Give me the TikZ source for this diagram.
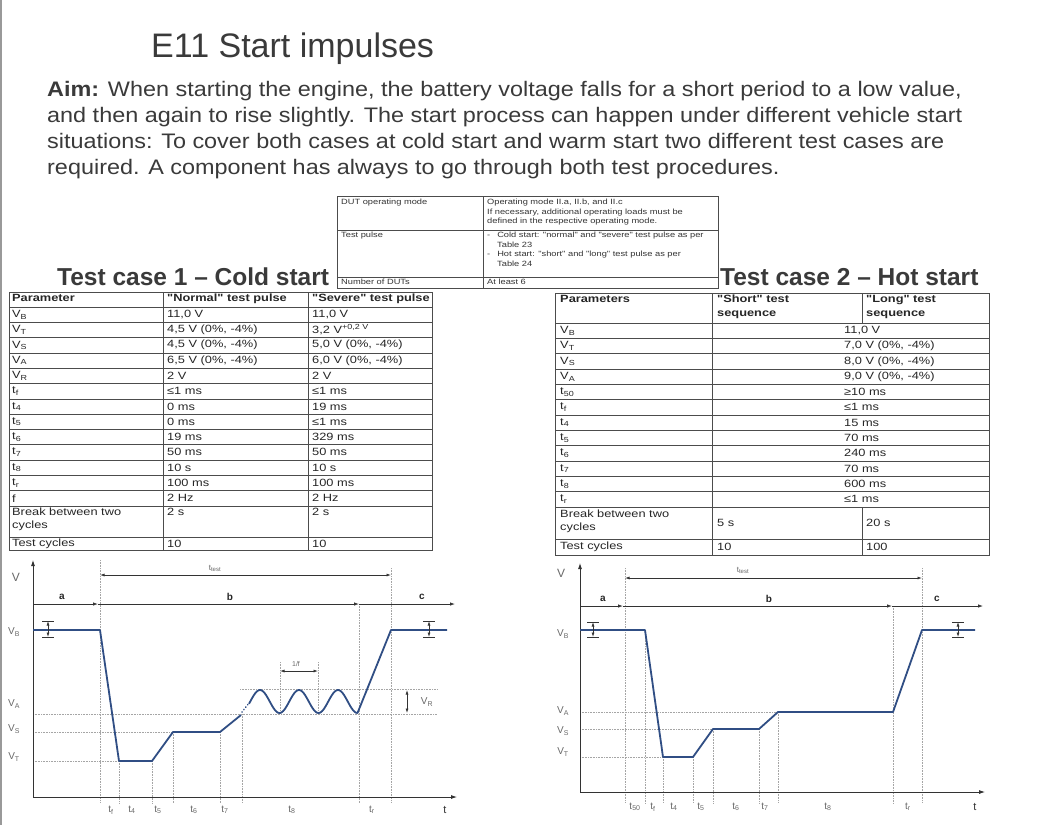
\documentclass[tikz,border=0pt]{standalone}
\usepackage{fontspec}
\setmainfont{Liberation Sans}
\newfontfamily\tabfont[FakeStretch=1.22]{Liberation Sans}
\newfontfamily\aimfont[FakeStretch=1.115]{Liberation Sans}
\usepackage{tikz}
\usetikzlibrary{arrows.meta}
\definecolor{slidegray}{RGB}{58,58,58}
\definecolor{pulseblue}{RGB}{48,78,132}
\definecolor{guidegray}{RGB}{165,165,165}
\definecolor{labelgray}{RGB}{105,105,105}
\newcommand{\lo}[1]{\textsubscript{#1}}
\tikzstyle{aimline} = [anchor=base west, inner sep=0pt, text=slidegray,
font=\aimfont\fontsize{21}{26}\selectfont]
\tikzstyle{casehead} = [anchor=base west, inner sep=0pt, text=slidegray,
font=\fontsize{24.5}{28}\selectfont\bfseries]
\tikzstyle{tabline} = [draw=black!70, line width=0.6pt]
\tikzstyle{tabcell} = [anchor=west, inner sep=0pt, text=black!85,
font=\tabfont\fontsize{10.5}{12.5}\selectfont]
\tikzstyle{tabhead} = [anchor=north west, inner sep=0pt, align=left, text=black!85,
font=\tabfont\fontsize{10.5}{14}\selectfont\bfseries]
\tikzstyle{tabwrap} = [anchor=north west, inner sep=0pt, align=left, text=black!85,
font=\tabfont\fontsize{10.5}{12.5}\selectfont]
\tikzstyle{dutcell} = [anchor=north west, inner sep=0pt, align=left, text=black!80,
font=\tabfont\fontsize{7.6}{9.6}\selectfont]
\tikzstyle{guideline} = [guidegray, densely dotted, line width=0.6pt]
\tikzstyle{pulse} = [pulseblue, line width=1.8pt, line join=round]
\tikzstyle{plotaxis} = [black!80, line width=0.8pt, -{Latex[length=6pt,width=4pt]}]
\tikzstyle{phasearrow} = [black!80, line width=0.8pt, -{Latex[length=5pt,width=3.5pt]}]
\tikzstyle{dimarrow} = [black!80, line width=0.7pt,
{Latex[length=4.5pt,width=3pt]}-{Latex[length=4.5pt,width=3pt]}]
\tikzstyle{levellabel} = [inner sep=0pt, text=labelgray, font=\fontsize{10}{12}\selectfont]
\tikzstyle{phaselabel} = [inner sep=0pt, text=black!85, font=\fontsize{10}{12}\selectfont\bfseries]

\begin{document}
\begin{tikzpicture}[x=1pt,y=-1pt]
\useasboundingbox (0,0) rectangle (1059,825);
\fill[white] (0,0) rectangle (1059,825);
\draw[black!40, line width=1.2pt] (1,0) -- (1,825);

% title and aim
\node[anchor=base west, inner sep=0pt, text=slidegray, font=\fontsize{34}{40}\selectfont]
  (title) at (151,57) {E11 Start impulses};
\node[aimline] (aim1) at (47,96) {\textbf{Aim:} When starting the engine, the battery voltage falls for a short period to a low value,};
\node[aimline] (aim2) at (47,122) {and then again to rise slightly. The start process can happen under different vehicle start};
\node[aimline] (aim3) at (47,148) {situations: To cover both cases at cold start and warm start two different test cases are};
\node[aimline] (aim4) at (47,174) {required. A component has always to go through both test procedures.};

% DUT table
\draw[tabline] (337,196) rectangle (718,288);
\draw[tabline] (337,230) -- (718,230) (337,277) -- (718,277) (483,196) -- (483,288);
\node[dutcell] (dut1) at (341,199) {DUT operating mode};
\node[dutcell] (dut2) at (487,199) {Operating mode II.a, II.b, and II.c\\
  If necessary, additional operating loads must be\\defined in the respective operating mode.};
\node[dutcell] (dut3) at (341,232) {Test pulse};
\node[dutcell] (dut4) at (487,232) {-\hspace{7pt}Cold start: "normal" and "severe" test pulse as per\\
  \hspace*{10pt}Table 23\\-\hspace{7pt}Hot start: "short" and "long" test pulse as per\\
  \hspace*{10pt}Table 24};
\node[dutcell] (dut5) at (341,278.5) {Number of DUTs};
\node[dutcell] (dut6) at (487,278.5) {At least 6};

\node[casehead] (case1) at (57,285) {Test case 1 – Cold start};
\node[casehead] (case2) at (720,285) {Test case 2 – Hot start};

% cold start table
\draw[tabline] (9,292) rectangle (432,550);
\foreach \i in {0,...,13}
  \draw[tabline] (9,{307+\i*15.3}) -- (432,{307+\i*15.3});
\draw[tabline] (9,537) -- (432,537) (163,292) -- (163,550) (308,292) -- (308,550);
\node[tabhead] (ch1) at (12,294) {Parameter};
\node[tabhead] (ch2) at (167,294) {"Normal" test pulse};
\node[tabhead] (ch3) at (312,294) {"Severe" test pulse};
\foreach \p/\n/\s [count=\i] in {
  {V\lo{B}}/{11,0 V}/{11,0 V},
  {V\lo{T}}/{4,5 V (0\%, -4\%)}/{3,2 V\textsuperscript{+0,2 V}},
  {V\lo{S}}/{4,5 V (0\%, -4\%)}/{5,0 V (0\%, -4\%)},
  {V\lo{A}}/{6,5 V (0\%, -4\%)}/{6,0 V (0\%, -4\%)},
  {V\lo{R}}/{2 V}/{2 V},
  {t\lo{f}}/{≤1 ms}/{≤1 ms},
  {t\lo{4}}/{0 ms}/{19 ms},
  {t\lo{5}}/{0 ms}/{≤1 ms},
  {t\lo{6}}/{19 ms}/{329 ms},
  {t\lo{7}}/{50 ms}/{50 ms},
  {t\lo{8}}/{10 s}/{10 s},
  {t\lo{r}}/{100 ms}/{100 ms},
  {f}/{2 Hz}/{2 Hz}} {
  \node[tabcell] (cp\i) at (12,{307+(\i-0.5)*15.3}) {\p};
  \node[tabcell] (cn\i) at (167,{307+(\i-0.5)*15.3}) {\n};
  \node[tabcell] (cs\i) at (312,{307+(\i-0.5)*15.3}) {\s};
}
\node[tabwrap] (cbr1) at (12,508) {Break between two\\cycles};
\node[tabwrap] (cbr2) at (167,508) {2 s};
\node[tabwrap] (cbr3) at (312,508) {2 s};
\node[tabcell] (ccy1) at (12,543.5) {Test cycles};
\node[tabcell] (ccy2) at (167,543.5) {10};
\node[tabcell] (ccy3) at (312,543.5) {10};

% hot start table
\draw[tabline] (555,293) rectangle (989,555);
\foreach \i in {0,...,12}
  \draw[tabline] (555,{323+\i*15.33}) -- (989,{323+\i*15.33});
\draw[tabline] (555,539) -- (989,539) (712,293) -- (712,555)
  (862,293) -- (862,323) (862,507) -- (862,555);
\node[tabhead] (hh1) at (560,295) {Parameters};
\node[tabhead] (hh2) at (717,295) {"Short" test\\sequence};
\node[tabhead] (hh3) at (866,295) {"Long" test\\sequence};
\foreach \p/\v [count=\i] in {
  {V\lo{B}}/{11,0 V},
  {V\lo{T}}/{7,0 V (0\%, -4\%)},
  {V\lo{S}}/{8,0 V (0\%, -4\%)},
  {V\lo{A}}/{9,0 V (0\%, -4\%)},
  {t\lo{50}}/{≥10 ms},
  {t\lo{f}}/{≤1 ms},
  {t\lo{4}}/{15 ms},
  {t\lo{5}}/{70 ms},
  {t\lo{6}}/{240 ms},
  {t\lo{7}}/{70 ms},
  {t\lo{8}}/{600 ms},
  {t\lo{r}}/{≤1 ms}} {
  \node[tabcell] (hp\i) at (560,{323+(\i-0.5)*15.33}) {\p};
  \node[tabcell] (hv\i) at (844,{323+(\i-0.5)*15.33}) {\v};
}
\node[tabwrap] (hbr1) at (560,510) {Break between two\\cycles};
\node[tabcell] (hbr2) at (717,523) {5 s};
\node[tabcell] (hbr3) at (866,523) {20 s};
\node[tabcell] (hcy1) at (560,547) {Test cycles};
\node[tabcell] (hcy2) at (717,547) {10};
\node[tabcell] (hcy3) at (866,547) {100};

% cold start pulse
\foreach \x/\a in {100/560, 119/761, 152/761, 173/732, 220/732, 242/714, 359/604, 391/568}
  \draw[guideline] (\x,\a) -- (\x,803);
\draw[guideline] (280,662) -- (280,714) (318,662) -- (318,714);
\draw[guideline] (33,714) -- (437,714) (240,689) -- (437,689)
  (33,732) -- (173,732) (33,761) -- (119,761);
\coordinate (lo) at (33,797);
\coordinate (ltop) at (33,560);
\coordinate (lend) at (457,797);
\draw[plotaxis] (lo) -- (ltop);
\draw[plotaxis] (lo) -- (lend);
\coordinate (la) at (33,604);
\coordinate (lb) at (98,604);
\coordinate (lc) at (359,604);
\coordinate (ld) at (455,604);
\draw[phasearrow] (la) -- (lb);
\draw[phasearrow] (lb) -- (lc);
\draw[phasearrow] (lc) -- (ld);
\node[phaselabel] (lpa) at (62,597) {a};
\node[phaselabel] (lpb) at (230,597) {b};
\node[phaselabel] (lpc) at (422,597) {c};
\coordinate (lts) at (100,575);
\coordinate (lte) at (391,575);
\draw[dimarrow] (lts) -- (lte);
\node[levellabel, font=\fontsize{8}{9}\selectfont] (ltt) at (215,568) {t\lo{test}};
\draw[pulse] (33,630) -- (100,630) -- (119,761) -- (152,761) -- (173,732)
  -- (220,732) -- (241,715);
\draw[pulseblue, line width=1.8pt, line cap=round, dash pattern=on 0.1pt off 3pt]
  (242,712) -- (249,703);
\draw[pulse] plot[domain=249:357.5, samples=90] (\x, {701.5-11.5*cos(9.2308*(\x-260))})
  -- (391,630) -- (447,630);
\foreach \x/\n in {48/lvb1, 429/lvb2} {
  \draw[black!80, line width=0.7pt] (\x-6,621) -- (\x+6,621) (\x-6,637) -- (\x+6,637);
  \coordinate (\n t) at (\x,621);
  \coordinate (\n b) at (\x,637);
  \draw[dimarrow] (\n t) -- (\n b);
}
\coordinate (lrt) at (407,690);
\coordinate (lrb) at (407,713);
\draw[dimarrow] (lrt) -- (lrb);
\node[levellabel] (lvr) at (427,702) {V\lo{R}};
\coordinate (lfs) at (280,671);
\coordinate (lfe) at (318,671);
\draw[dimarrow] (lfs) -- (lfe);
\node[levellabel, font=\fontsize{7}{8}\selectfont] (lf) at (296,664) {1/f};
\node[levellabel, font=\fontsize{12}{14}\selectfont] (lv) at (16,577) {V};
\node[levellabel] (lvb) at (14,632) {V\lo{B}};
\node[levellabel] (lva) at (14,704) {V\lo{A}};
\node[levellabel] (lvs) at (14,729) {V\lo{S}};
\node[levellabel] (lvt) at (14,757) {V\lo{T}};
\foreach \x/\t [count=\i] in {111/t\lo{f}, 132/t\lo{4}, 158/t\lo{5}, 194/t\lo{6},
  225/t\lo{7}, 292/t\lo{8}, 372/t\lo{r}}
  \node[levellabel] (lt\i) at (\x,810) {\t};
\node[levellabel, text=black!80, font=\fontsize{11}{12}\selectfont] (ltime) at (445,810) {t};

% hot start pulse
\foreach \x/\a in {625/568, 645/630, 663/757, 693/757, 713/729, 759/729, 778/712, 893/606, 922/568}
  \draw[guideline] (\x,\a) -- (\x,803);
\draw[guideline] (580,712) -- (778,712) (580,729) -- (713,729) (580,757) -- (663,757);
\coordinate (ro) at (580,792);
\coordinate (rtop) at (580,563);
\coordinate (rend) at (985,792);
\draw[plotaxis] (ro) -- (rtop);
\draw[plotaxis] (ro) -- (rend);
\coordinate (ra) at (580,606);
\coordinate (rb) at (623,606);
\coordinate (rc) at (892,606);
\coordinate (rd) at (983,606);
\draw[phasearrow] (ra) -- (rb);
\draw[phasearrow] (rb) -- (rc);
\draw[phasearrow] (rc) -- (rd);
\node[phaselabel] (rpa) at (603,599) {a};
\node[phaselabel] (rpb) at (769,599) {b};
\node[phaselabel] (rpc) at (937,599) {c};
\coordinate (rts) at (625,578);
\coordinate (rte) at (922,578);
\draw[dimarrow] (rts) -- (rte);
\node[levellabel, font=\fontsize{8}{9}\selectfont] (rtt) at (743,570) {t\lo{test}};
\draw[pulse] (580,630) -- (645,630) -- (663,757) -- (693,757) -- (713,729)
  -- (759,729) -- (778,712) -- (893,712) -- (922,630) -- (975,630);
\foreach \x/\n in {593/rvb1, 958/rvb2} {
  \draw[black!80, line width=0.7pt] (\x-6,622) -- (\x+6,622) (\x-6,637) -- (\x+6,637);
  \coordinate (\n t) at (\x,622);
  \coordinate (\n b) at (\x,637);
  \draw[dimarrow] (\n t) -- (\n b);
}
\node[levellabel, font=\fontsize{12}{14}\selectfont] (rv) at (561,573) {V};
\node[levellabel] (rvb) at (563,634) {V\lo{B}};
\node[levellabel] (rva) at (563,711) {V\lo{A}};
\node[levellabel] (rvs) at (563,731) {V\lo{S}};
\node[levellabel] (rvt) at (563,752) {V\lo{T}};
\foreach \x/\t [count=\i] in {635/t\lo{50}, 653/t\lo{f}, 674/t\lo{4}, 701/t\lo{5},
  736/t\lo{6}, 765/t\lo{7}, 828/t\lo{8}, 908/t\lo{r}}
  \node[levellabel] (rt\i) at (\x,807) {\t};
\node[levellabel, text=black!80, font=\fontsize{11}{12}\selectfont] (rtime) at (975,807) {t};
\end{tikzpicture}
\end{document}
